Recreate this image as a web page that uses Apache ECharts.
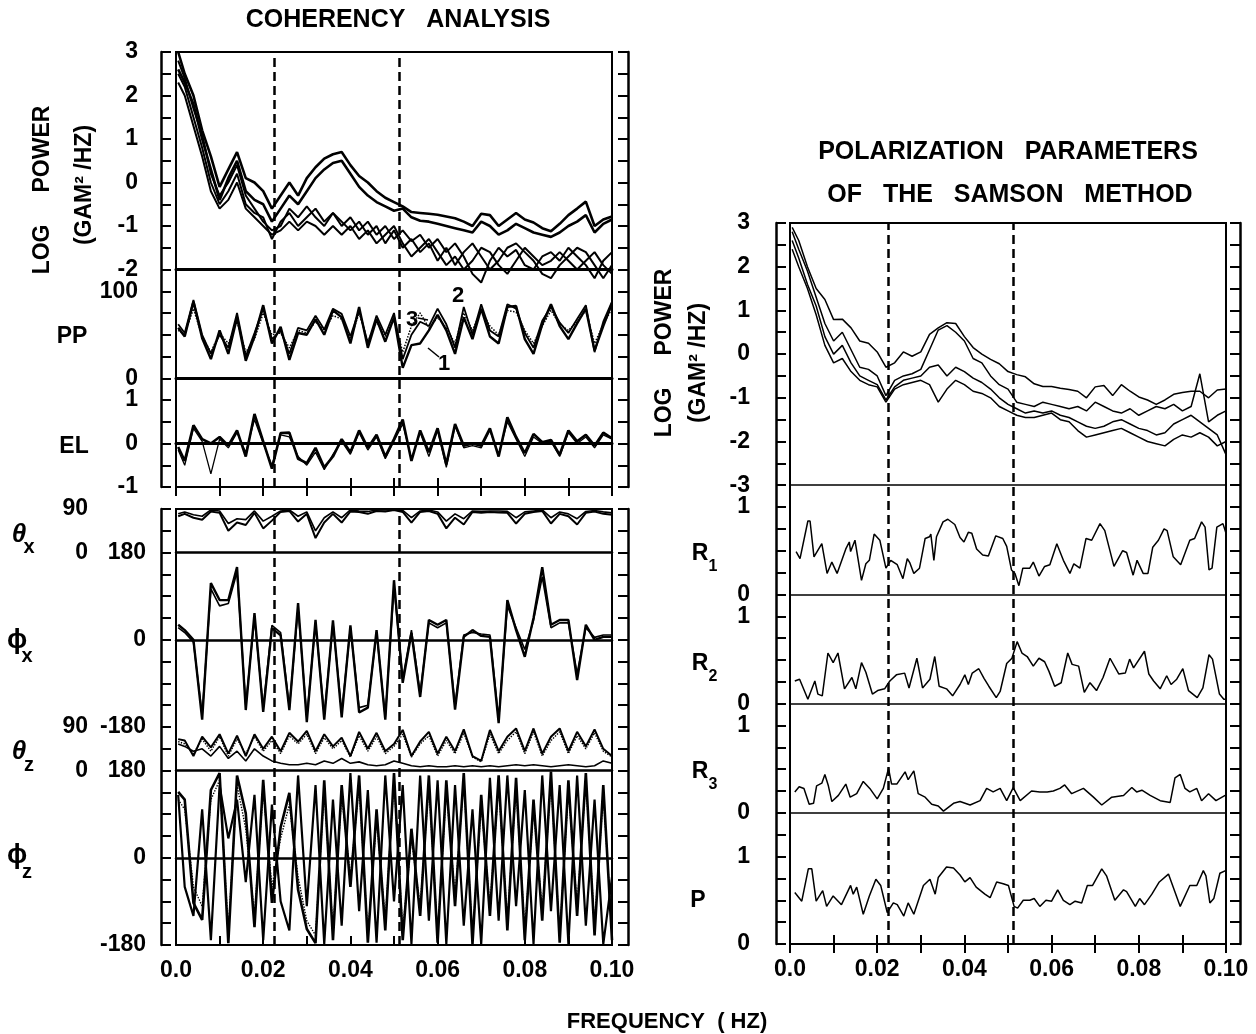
<!DOCTYPE html>
<html>
<head>
<meta charset="utf-8">
<script src="https://cdn.jsdelivr.net/npm/echarts@6/dist/echarts.min.js"></script>
<style>html,body{margin:0;padding:0;background:#fff}#chart{width:1256px;height:1034px}</style>
</head>
<body>
<div id="chart"></div>
<script>
// ---------------- DATA ----------------
const F = [0.0005,0.002,0.004,0.006,0.008,0.010,0.012,0.014,0.016,0.018,
 0.020,0.022,0.024,0.026,0.028,0.030,0.032,0.034,0.036,0.038,
 0.040,0.042,0.044,0.046,0.048,0.050,0.052,0.054,0.056,0.058,
 0.060,0.062,0.064,0.066,0.068,0.070,0.072,0.074,0.076,0.078,
 0.080,0.082,0.084,0.086,0.088,0.090,0.092,0.094,0.096,0.098,
 0.100];
const DASH_F = [0.0226, 0.0511];
const X_TICKS = [0, 0.02, 0.04, 0.06, 0.08, 0.10];

// Coherency analysis: log power (5 components)
const LP1 = [3.0,2.5,2.0,1.2,0.6,-0.1,0.3,0.7,0.1,0.0,
 -0.2,-0.6,-0.3,0.0,-0.3,0.1,0.35,0.55,0.65,0.7,
 0.4,0.15,0.0,-0.2,-0.35,-0.45,-0.55,-0.68,-0.7,-0.72,
 -0.74,-0.78,-0.82,-0.9,-1.0,-0.72,-0.75,-1.0,-0.85,-0.7,
 -0.85,-0.92,-1.05,-1.12,-0.95,-0.75,-0.6,-0.44,-1.0,-0.85,
 -0.78];
const LP2 = [2.6,2.3,1.8,1.0,0.3,-0.4,0.1,0.5,-0.2,-0.4,
 -0.5,-0.9,-0.6,-0.3,-0.5,-0.2,0.1,0.3,0.45,0.5,
 0.2,-0.1,-0.3,-0.45,-0.55,-0.65,-0.6,-0.8,-0.88,-0.9,
 -0.95,-1.0,-1.05,-1.1,-1.15,-0.9,-1.0,-1.2,-1.1,-0.95,
 -1.05,-1.15,-1.2,-1.25,-1.15,-1.0,-0.9,-0.75,-1.15,-0.95,
 -0.85];
const LP3 = [2.5,2.2,1.5,0.8,0.0,-0.5,-0.2,0.2,-0.5,-0.7,
 -0.8,-1.3,-0.9,-0.7,-1.0,-0.8,-0.6,-0.9,-0.7,-1.0,
 -0.8,-1.1,-0.9,-1.2,-1.0,-1.3,-1.1,-1.35,-1.2,-1.5,
 -1.3,-1.6,-1.4,-1.7,-2.1,-2.3,-1.8,-1.5,-1.7,-1.55,
 -1.9,-2.0,-1.7,-1.6,-1.8,-1.5,-1.7,-1.9,-2.2,-1.8,
 -1.6];
const LP4 = [2.8,2.4,1.7,1.1,0.2,-0.3,0.0,0.4,-0.3,-0.6,
 -0.9,-1.1,-1.0,-0.6,-0.8,-0.55,-0.8,-1.0,-0.7,-0.9,
 -1.1,-0.9,-1.2,-1.0,-1.4,-1.1,-1.5,-1.3,-1.6,-1.4,
 -1.8,-1.5,-1.9,-1.6,-1.4,-1.7,-2.0,-1.8,-1.5,-1.4,
 -1.6,-1.8,-2.1,-2.2,-1.9,-1.7,-1.5,-1.6,-1.9,-2.2,
 -1.9];
const LP5 = [2.3,2.0,1.3,0.6,-0.2,-0.6,-0.4,0.0,-0.6,-0.8,
 -1.0,-1.2,-1.1,-0.9,-1.1,-0.9,-1.0,-1.2,-1.0,-1.2,
 -1.0,-1.3,-1.1,-1.4,-1.2,-1.0,-1.4,-1.7,-1.5,-1.3,
 -1.6,-1.9,-1.7,-2.0,-1.8,-1.5,-1.6,-1.9,-2.1,-1.8,
 -1.5,-1.7,-1.9,-1.8,-1.6,-1.8,-2.0,-1.8,-1.6,-1.9,
 -2.1];
// PP (percent polarization), stations 1,2,3
const PP1 = [58,48,88,46,22,55,28,70,20,48,
 84,40,59,21,52,50,68,50,78,70,
 40,82,35,68,42,70,12,38,40,55,
 73,55,28,70,45,80,48,40,82,83,
 45,28,62,85,60,45,63,80,32,60,
 86];
const PP2 = [62,52,90,50,28,50,35,75,25,52,
 80,45,55,28,58,55,72,56,80,74,
 48,78,40,72,50,75,22,50,65,60,
 80,62,35,82,50,85,55,48,85,80,
 52,35,66,82,64,52,68,84,30,65,
 88];
const PP3 = [55,50,80,48,30,52,40,65,30,45,
 75,50,52,35,55,52,65,55,72,68,
 45,75,42,65,48,68,30,60,75,58,
 70,58,40,75,55,78,60,50,78,76,
 55,40,60,78,62,55,65,78,40,62,
 80];
// EL (ellipticity)
const EL1 = [-0.08,-0.4,0.42,0.1,0.0,0.15,-0.05,0.3,-0.3,0.68,
 0.05,-0.58,0.24,0.25,-0.35,-0.45,-0.1,-0.55,-0.3,0.1,
 -0.2,0.3,-0.1,0.2,-0.3,0.1,0.55,-0.4,0.3,-0.2,
 0.35,-0.48,0.45,-0.05,0.0,-0.05,0.35,-0.3,0.6,0.15,
 -0.22,0.22,0.03,0.08,-0.26,0.3,0.05,0.2,-0.05,0.25,
 0.12];
const EL2 = [-0.15,-0.5,0.35,0.05,-0.7,0.1,-0.1,0.25,-0.2,0.55,
 0.0,-0.5,0.2,0.15,-0.3,-0.5,-0.2,-0.6,-0.25,0.05,
 -0.25,0.25,-0.15,0.15,-0.35,0.05,0.45,-0.35,0.25,-0.3,
 0.3,-0.55,0.4,-0.1,-0.05,-0.1,0.3,-0.25,0.5,0.1,
 -0.3,0.15,0.0,0.05,-0.3,0.25,0.0,0.15,-0.1,0.2,
 0.1];
// theta_x, phi_x
const TX1 = [75,80,72,68,85,82,45,62,57,82,
 50,66,84,86,64,80,30,62,80,62,
 85,84,80,86,85,88,84,62,84,86,
 80,50,72,58,84,82,84,83,82,60,
 80,84,86,60,80,75,58,82,85,80,
 78];
const TX2 = [80,84,78,75,88,86,60,70,68,86,
 65,75,86,88,75,84,45,72,84,72,
 88,86,85,88,88,89,87,72,86,88,
 84,65,80,70,86,85,86,86,85,72,
 84,86,88,72,84,80,70,85,87,84,
 82];
const PX1 = [31,20,0,-165,117,82,82,150,-145,55,
 -149,24,9,-145,76,-170,41,-165,40,-160,
 30,-150,-140,20,-165,123,-89,14,-118,41,
 31,41,-144,6,20,8,6,-172,82,20,
 -35,45,150,31,41,41,-83,31,0,6,
 6];
const PX2 = [25,15,-5,-155,105,70,75,140,-135,45,
 -140,30,15,-140,65,-160,35,-155,35,-150,
 25,-140,-135,15,-160,110,-80,20,-110,35,
 25,35,-135,10,15,12,10,-165,70,25,
 -20,40,130,25,35,35,-70,25,5,10,
 10];
// theta_z, phi_z
const TZ1 = [65,62,30,70,48,75,35,72,30,75,
 45,70,40,78,60,82,40,75,50,68,
 30,80,45,78,40,55,84,30,60,80,
 35,70,40,85,30,20,84,40,70,87,
 40,87,35,70,87,40,80,50,85,45,
 30];
const TZ2 = [55,50,40,45,30,50,25,40,20,45,
 30,20,15,12,12,15,12,20,15,25,
 15,18,12,10,12,20,15,10,8,10,
 8,8,10,8,10,8,10,8,10,12,
 10,12,10,8,10,12,10,8,10,20,
 15];
const TZ3 = [60,55,35,65,40,70,30,65,35,70,
 40,62,35,72,55,75,35,68,45,62,
 28,72,40,70,35,50,75,28,55,72,
 30,62,35,78,28,18,75,35,62,80,
 35,80,30,62,80,35,72,45,78,40,
 28];
const PZ1 = [136,120,-93,-128,140,175,-176,170,92,-143,
 161,-93,63,134,-66,-147,-176,160,-170,150,
 -60,170,-175,100,-150,175,-170,60,-120,170,
 -175,160,-100,175,-178,130,-120,170,-150,165,
 -170,120,-130,178,-175,160,-120,175,-160,150,
 -170];
const PZ2 = [130,-60,-120,100,-170,150,40,120,-50,130,
 -170,110,-90,-150,170,-100,150,-178,120,-140,
 175,-110,140,-175,170,-90,150,-178,170,-130,
 160,-178,150,-140,100,-178,165,-130,170,-100,
 140,-178,170,-110,150,-178,170,-140,120,-178,
 -40];
const PZ3 = [120,100,-60,-100,120,160,-150,150,60,-120,
 140,-60,40,110,-40,-130,-160,140,-150,130,
 -40,150,-160,80,-130,160,-150,40,-100,150,
 -160,140,-80,160,-165,110,-100,150,-130,145,
 -150,100,-110,160,-160,140,-100,160,-140,130,
 -150];
// Samson: log power (4 components)
const RL1 = [2.9,2.6,2.0,1.5,1.25,0.79,0.8,0.6,0.3,0.25,
 0.05,-0.3,-0.2,0.05,-0.05,0.05,0.45,0.6,0.72,0.7,
 0.4,0.15,0.0,-0.12,-0.22,-0.4,-0.47,-0.52,-0.68,-0.74,
 -0.74,-0.78,-0.81,-0.85,-1.0,-0.75,-0.72,-0.95,-0.7,-0.85,
 -0.98,-1.05,-1.15,-1.05,-0.92,-0.88,-0.85,-0.85,-1.0,-0.82,
 -0.8];
const RL2 = [2.8,2.4,1.9,1.3,0.7,0.3,0.5,0.1,-0.3,-0.35,
 -0.5,-0.95,-0.6,-0.5,-0.45,-0.35,0.1,0.55,0.65,0.5,
 0.3,-0.1,-0.2,-0.5,-0.7,-0.8,-1.1,-1.15,-1.2,-1.1,
 -1.15,-1.2,-1.25,-1.2,-1.3,-1.1,-1.2,-1.3,-1.35,-1.25,
 -1.4,-1.3,-1.2,-1.25,-1.15,-1.3,-1.2,-0.45,-1.55,-1.4,
 -1.3];
const RL3 = [2.6,2.2,1.6,1.1,0.4,0.0,0.2,-0.2,-0.5,-0.6,
 -0.7,-1.05,-0.75,-0.6,-0.55,-0.5,-0.3,-0.25,-0.5,-0.3,
 -0.4,-0.55,-0.65,-0.8,-1.0,-1.15,-1.25,-1.35,-1.3,-1.35,
 -1.3,-1.4,-1.45,-1.55,-1.65,-1.7,-1.65,-1.55,-1.5,-1.6,
 -1.7,-1.75,-1.85,-1.8,-1.6,-1.5,-1.4,-1.55,-1.7,-1.85,
 -2.3];
const RL4 = [2.4,2.0,1.5,0.9,0.2,-0.2,-0.1,-0.4,-0.6,-0.7,
 -0.75,-1.1,-0.8,-0.7,-0.65,-0.6,-0.7,-1.1,-0.8,-0.6,
 -0.7,-0.85,-0.9,-1.0,-1.2,-1.3,-1.4,-1.45,-1.45,-1.4,
 -1.35,-1.5,-1.55,-1.75,-1.9,-1.85,-1.8,-1.75,-1.7,-1.8,
 -1.9,-2.0,-2.05,-2.1,-1.95,-1.85,-1.9,-1.8,-1.9,-2.1,
 -2.0];
// Samson: R1, R2, R3, P  ([frequency, value])
const R1 = [[0.0014,0.49],[0.0023,0.41],[0.0041,0.84],[0.0046,0.84],[0.0055,0.43],[0.0073,0.58],[0.0085,0.24],[0.0096,0.37],[0.0108,0.24],[0.0128,0.52],[0.0136,0.60],[0.0139,0.49],[0.0149,0.62],[0.0164,0.16],[0.0174,0.35],[0.0182,0.39],[0.0193,0.69],[0.0206,0.62],[0.022,0.30],[0.0231,0.39],[0.0246,0.34],[0.0259,0.18],[0.0269,0.41],[0.0275,0.36],[0.0284,0.24],[0.0297,0.30],[0.031,0.64],[0.032,0.66],[0.0323,0.69],[0.033,0.39],[0.0336,0.66],[0.0351,0.83],[0.0362,0.86],[0.0378,0.80],[0.039,0.65],[0.0399,0.60],[0.0409,0.71],[0.0417,0.70],[0.0428,0.52],[0.0442,0.45],[0.0455,0.44],[0.0472,0.67],[0.0488,0.64],[0.0497,0.55],[0.0508,0.28],[0.0516,0.24],[0.0525,0.10],[0.0534,0.30],[0.0543,0.30],[0.055,0.30],[0.0558,0.37],[0.0571,0.21],[0.0584,0.32],[0.0596,0.34],[0.0612,0.58],[0.0627,0.39],[0.0642,0.24],[0.0651,0.35],[0.0665,0.30],[0.0679,0.64],[0.0692,0.62],[0.0711,0.81],[0.0722,0.73],[0.0743,0.32],[0.0763,0.50],[0.0772,0.48],[0.0787,0.22],[0.0796,0.39],[0.081,0.24],[0.0821,0.24],[0.0832,0.54],[0.0845,0.62],[0.0858,0.75],[0.0865,0.73],[0.0879,0.43],[0.0896,0.34],[0.0917,0.62],[0.0928,0.64],[0.0944,0.83],[0.0952,0.77],[0.0961,0.28],[0.0968,0.30],[0.0979,0.77],[0.0993,0.81],[0.1,0.70]];
const R2 = [[0.0011,0.26],[0.0022,0.28],[0.0041,0.05],[0.0057,0.26],[0.0064,0.11],[0.0074,0.09],[0.0087,0.58],[0.0099,0.47],[0.011,0.58],[0.0125,0.17],[0.0142,0.30],[0.0151,0.17],[0.0164,0.47],[0.0174,0.36],[0.0189,0.11],[0.0201,0.15],[0.0217,0.17],[0.0229,0.26],[0.0244,0.33],[0.0263,0.35],[0.0273,0.18],[0.0291,0.52],[0.0304,0.18],[0.0321,0.28],[0.0332,0.54],[0.0342,0.20],[0.0359,0.17],[0.0373,0.09],[0.039,0.22],[0.0401,0.33],[0.0409,0.22],[0.0418,0.35],[0.0433,0.40],[0.0445,0.29],[0.0456,0.20],[0.0473,0.07],[0.0482,0.14],[0.0497,0.46],[0.0509,0.52],[0.0521,0.71],[0.0532,0.58],[0.0544,0.54],[0.0558,0.43],[0.0571,0.52],[0.0584,0.48],[0.0594,0.37],[0.0607,0.20],[0.0622,0.24],[0.0637,0.58],[0.0647,0.45],[0.0662,0.43],[0.0675,0.13],[0.0688,0.24],[0.0703,0.15],[0.0718,0.30],[0.0734,0.52],[0.0754,0.34],[0.0769,0.35],[0.0779,0.51],[0.0788,0.41],[0.0813,0.60],[0.0823,0.34],[0.0834,0.26],[0.0849,0.17],[0.0864,0.32],[0.0874,0.22],[0.0887,0.28],[0.0901,0.40],[0.0914,0.15],[0.0934,0.07],[0.0947,0.18],[0.0961,0.56],[0.0969,0.51],[0.0985,0.11],[0.0995,0.05],[0.1,0.05]];
const R3 = [[0.0011,0.24],[0.0021,0.30],[0.0032,0.28],[0.0044,0.10],[0.0054,0.11],[0.0061,0.31],[0.0073,0.34],[0.008,0.44],[0.0088,0.31],[0.0096,0.13],[0.0111,0.20],[0.0128,0.33],[0.0138,0.18],[0.0153,0.22],[0.0168,0.36],[0.0183,0.28],[0.02,0.16],[0.0214,0.28],[0.0226,0.51],[0.0233,0.33],[0.0245,0.33],[0.0264,0.47],[0.0271,0.38],[0.0284,0.48],[0.0294,0.22],[0.031,0.18],[0.0325,0.10],[0.034,0.08],[0.0352,0.02],[0.0375,0.11],[0.039,0.13],[0.0413,0.09],[0.0436,0.14],[0.0451,0.28],[0.0466,0.24],[0.0482,0.28],[0.0497,0.14],[0.0512,0.29],[0.0528,0.14],[0.0554,0.25],[0.0573,0.24],[0.059,0.24],[0.0604,0.25],[0.0619,0.28],[0.063,0.32],[0.0646,0.22],[0.0673,0.28],[0.0696,0.18],[0.0715,0.09],[0.0738,0.18],[0.0765,0.20],[0.0784,0.29],[0.0795,0.24],[0.0807,0.26],[0.0826,0.20],[0.0849,0.14],[0.0872,0.12],[0.0883,0.40],[0.0895,0.44],[0.0906,0.28],[0.0917,0.24],[0.0933,0.28],[0.0944,0.14],[0.096,0.22],[0.0977,0.14],[0.0998,0.20]];
const PR = [[0.0011,0.59],[0.0027,0.49],[0.0042,0.86],[0.005,0.86],[0.006,0.49],[0.0075,0.61],[0.0084,0.43],[0.0099,0.55],[0.0118,0.45],[0.0139,0.67],[0.0145,0.57],[0.0153,0.65],[0.0168,0.34],[0.0182,0.55],[0.0197,0.74],[0.0208,0.67],[0.0223,0.36],[0.0237,0.47],[0.0246,0.45],[0.0261,0.32],[0.0271,0.47],[0.0284,0.34],[0.0306,0.67],[0.0321,0.74],[0.0333,0.57],[0.034,0.76],[0.0359,0.88],[0.0375,0.87],[0.039,0.79],[0.0401,0.71],[0.0413,0.76],[0.0427,0.65],[0.0447,0.57],[0.0459,0.53],[0.0474,0.71],[0.0489,0.69],[0.0501,0.67],[0.0514,0.43],[0.0522,0.41],[0.0535,0.50],[0.055,0.50],[0.056,0.52],[0.0573,0.43],[0.0587,0.50],[0.06,0.49],[0.0614,0.62],[0.0627,0.50],[0.0642,0.45],[0.0654,0.49],[0.0669,0.47],[0.0682,0.67],[0.0694,0.67],[0.0715,0.86],[0.0726,0.78],[0.0745,0.50],[0.0765,0.62],[0.0772,0.60],[0.0792,0.43],[0.0802,0.52],[0.0813,0.45],[0.083,0.57],[0.0847,0.71],[0.0868,0.80],[0.0895,0.43],[0.0917,0.67],[0.0933,0.67],[0.0948,0.84],[0.0954,0.78],[0.0963,0.47],[0.0972,0.52],[0.0986,0.81],[0.0999,0.84]];

// ---------------- BUILD ----------------
const FONT = 'Liberation Sans';
const zip = v => F.map((f, i) => [f, v[i]]);
const grids = [], xAxes = [], yAxes = [], series = [];

function frame(left, top, width, height, units, topTicks, labels, offL, offR) {
  const gi = grids.length;
  grids.push({left, top, width, height, show: true, borderColor: '#000', borderWidth: 2,
    backgroundColor: 'transparent', containLabel: false, outerBoundsMode: 'none'});
  const xi = xAxes.length;
  xAxes.push({gridIndex: gi, type: 'value', position: 'bottom', min: 0, max: 0.1, interval: 0.01,
    axisLine: {show: false}, splitLine: {show: false},
    axisTick: {show: true, inside: true, length: 9, lineStyle: {color: '#000', width: 2}},
    axisLabel: labels ? {show: true, margin: 14, color: '#000', fontFamily: FONT, fontWeight: 'bold', fontSize: 23,
      showMinLabel: true, showMaxLabel: true,
      formatter: v => { const k = Math.round(v * 100); const i = X_TICKS.findIndex(t => Math.round(t * 100) === k);
        return i < 0 ? '' : (k === 0 ? '0.0' : X_TICKS[i].toFixed(2)); }} : {show: false}});
  if (topTicks) xAxes.push({gridIndex: gi, type: 'value', position: 'top', min: 0, max: 0.1, interval: 0.01,
    axisLine: {show: false}, splitLine: {show: false}, axisLabel: {show: false},
    axisTick: {show: true, inside: true, length: 9, lineStyle: {color: '#000', width: 2}}});
  const yi = yAxes.length;
  [['left', offL], ['right', offR]].forEach(([pos, off]) => yAxes.push({gridIndex: gi, type: 'value', position: pos, offset: off,
    min: 0, max: units, interval: 1, splitLine: {show: false}, axisLabel: {show: false},
    axisLine: {show: true, onZero: false, lineStyle: {color: '#000', width: 2.5}},
    axisTick: {show: true, inside: true, length: 10, lineStyle: {color: '#000', width: 2}}}));
  series.push({type: 'line', xAxisIndex: xi, yAxisIndex: yi, data: [[0, 0], [0.1, 0]], symbol: 'none',
    lineStyle: {opacity: 0}, silent: true, animation: false,
    markLine: {silent: true, symbol: ['none', 'none'], label: {show: false}, animation: false, precision: 5,
      lineStyle: {color: '#000', width: 2.5, type: [9, 5]},
      data: DASH_F.map(f => ({xAxis: f}))}});
}

function panel(left, top, width, height, ymin, ymax, yint, margin, onZero, baseW, lines) {
  const gi = grids.length;
  grids.push({left, top, width, height, show: false, containLabel: false, outerBoundsMode: 'none'});
  const xi = xAxes.length;
  xAxes.push({gridIndex: gi, type: 'value', min: 0, max: 0.1,
    axisLine: {show: true, onZero: onZero, lineStyle: {color: '#000', width: baseW}},
    axisTick: {show: false}, axisLabel: {show: false}, splitLine: {show: false}});
  const yi = yAxes.length;
  yAxes.push({gridIndex: gi, type: 'value', min: ymin, max: ymax, interval: yint,
    axisLine: {show: false}, axisTick: {show: false}, splitLine: {show: false},
    axisLabel: {show: true, margin, color: '#000', fontFamily: FONT, fontWeight: 'bold', fontSize: 23,
      showMinLabel: true, showMaxLabel: true}});
  lines.forEach(l => series.push({type: 'line', xAxisIndex: xi, yAxisIndex: yi, data: l.d, symbol: 'none',
    clip: l.clip !== false, silent: true, animation: false,
    lineStyle: {color: '#000', width: l.w, type: l.t || 'solid'}}));
}

const LX = 176, RX = 790, PW = 436;
frame(LX, 52, PW, 435, 20, true, false, 15, 16);
frame(LX, 509, PW, 436, 20, false, true, 15, 16);
frame(RX, 223, PW, 721, 33, true, true, 14, 14);

panel(LX, 52, PW, 217.5, -2, 3, 1, 38, false, 3,
  [LP1, LP2, LP3, LP4, LP5].map((v, i) => ({d: zip(v), w: i < 2 ? 2.6 : 2.0, clip: false})));
panel(LX, 291.25, PW, 87, 0, 100, 100, 38, true, 3,
  [{d: zip(PP1), w: 2.4}, {d: zip(PP2), w: 1.8}, {d: zip(PP3), w: 1.5, t: 'dotted'}]);
panel(LX, 400, PW, 87, -1, 1, 1, 38, true, 3,
  [{d: zip(EL1), w: 2.6}, {d: zip(EL2), w: 1.3}]);
panel(LX, 509, PW, 43.6, 0, 90, 90, 88, true, 2.5,
  [{d: zip(TX1), w: 2.0}, {d: zip(TX2), w: 1.6}]);
panel(LX, 552.6, PW, 174.4, -180, 180, 180, 30, true, 2.5,
  [{d: zip(PX1), w: 2.4}, {d: zip(PX2), w: 1.6}]);
panel(LX, 727, PW, 43.6, 0, 90, 90, 88, true, 2.5,
  [{d: zip(TZ1), w: 2.0}, {d: zip(TZ2), w: 1.6}, {d: zip(TZ3), w: 1.4, t: 'dotted'}]);
panel(LX, 770.6, PW, 174.4, -180, 180, 180, 30, true, 2.5,
  [{d: zip(PZ1), w: 2.6}, {d: zip(PZ2), w: 2.2}, {d: zip(PZ3), w: 1.4, t: 'dotted'}]);
panel(RX, 223, PW, 262.2, -3, 3, 1, 40, false, 1.6,
  [RL1, RL2, RL3, RL4].map(v => ({d: zip(v), w: 1.5})));
panel(RX, 507, PW, 87.4, 0, 1, 1, 40, true, 1.6, [{d: R1, w: 1.5}]);
panel(RX, 616.3, PW, 87.4, 0, 1, 1, 40, true, 1.6, [{d: R2, w: 1.5}]);
panel(RX, 725.5, PW, 87.4, 0, 1, 1, 40, true, 1.6, [{d: R3, w: 1.5}]);
panel(RX, 856.6, PW, 87.4, 0, 1, 1, 40, true, 1.6, [{d: PR, w: 1.5}]);

function txt(x, y, text, size, rot, extra) {
  return {type: 'text', x, y, rotation: rot || 0, silent: true, z: 10,
    style: Object.assign({text, fill: '#000', fontFamily: FONT, fontWeight: 'bold', fontSize: size,
      align: 'center', verticalAlign: 'middle'}, extra || {})};
}
function seg(x1, y1, x2, y2, w) {
  return {type: 'line', silent: true, z: 10, shape: {x1, y1, x2, y2}, style: {stroke: '#000', lineWidth: w || 1.5}};
}
const R = Math.PI / 2;
const graphics = [
  txt(398, 20, 'COHERENCY   ANALYSIS', 25),
  txt(1008, 152, 'POLARIZATION   PARAMETERS', 25),
  txt(1010, 195, 'OF   THE   SAMSON   METHOD', 25),
  txt(43, 190, 'LOG     POWER', 23, R),
  txt(85, 185, '(GAM² /HZ)', 23, R),
  txt(665, 353, 'LOG     POWER', 23, R),
  txt(699, 363, '(GAM² /HZ)', 23, R),
  txt(72, 337, 'PP', 23), txt(74, 447, 'EL', 23),
  txt(19, 535, 'θ', 26, 0, {fontStyle: 'italic'}), txt(29, 547, 'x', 20),
  txt(17, 641, 'ϕ', 27), txt(27, 656, 'x', 20),
  txt(19, 752, 'θ', 26, 0, {fontStyle: 'italic'}), txt(29, 765, 'z', 20),
  txt(17, 856, 'ϕ', 27), txt(27, 872, 'z', 20),
  txt(700, 554, 'R', 23), txt(713, 567, '1', 16),
  txt(700, 664, 'R', 23), txt(713, 677, '2', 16),
  txt(700, 772, 'R', 23), txt(713, 785, '3', 16),
  txt(698, 901, 'P', 23),
  txt(412, 320, '3', 22), txt(458, 296, '2', 22), txt(444, 364, '1', 22),
  seg(418, 318, 428, 320), seg(428, 348, 439, 357),
  txt(667, 1022, 'FREQUENCY  ( HZ)', 22)
];

const chart = echarts.init(document.getElementById('chart'), null, {renderer: 'canvas'});
chart.setOption({
  animation: false,
  backgroundColor: '#fff',
  grid: grids, xAxis: xAxes, yAxis: yAxes, series,
  graphic: graphics
});
</script>
</body>
</html>
